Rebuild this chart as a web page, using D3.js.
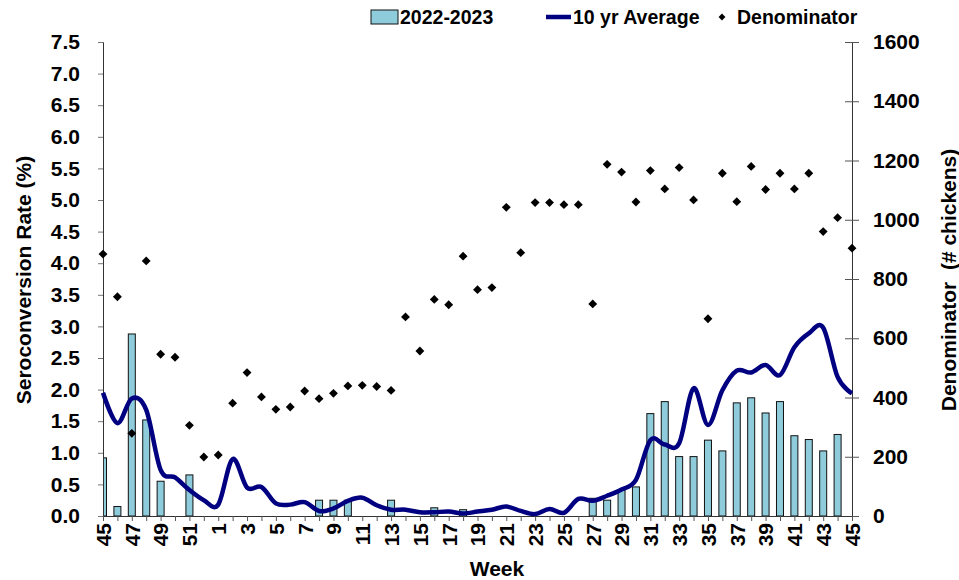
<!DOCTYPE html>
<html><head><meta charset="utf-8">
<script src="https://cdn.jsdelivr.net/npm/d3@7"></script>
<style>body{margin:0;background:#fff}svg{display:block;font-family:"Liberation Sans",Arial,sans-serif;font-weight:bold}</style>
</head><body><svg id="c" width="959" height="580"></svg>
<script>
const weeks = [45,46,47,48,49,50,51,52,1,2,3,4,5,6,7,8,9,10,11,12,13,14,15,16,17,18,19,20,21,22,23,24,25,26,27,28,29,30,31,32,33,34,35,36,37,38,39,40,41,42,43,44,45];
const rate2022 = [0.92,0.15,2.88,1.52,0.55,0,0.65,0,0,0,0,0,0,0,0,0.25,0.25,0.25,0,0,0.25,0,0,0.13,0,0.1,0,0,0,0,0,0,0,0,0.28,0.25,0.41,0.46,1.62,1.81,0.94,0.94,1.20,1.03,1.79,1.87,1.63,1.81,1.27,1.21,1.03,1.29,0];
const avg10 = [1.95,1.47,1.86,1.68,0.73,0.61,0.41,0.25,0.18,0.90,0.45,0.46,0.20,0.18,0.22,0.08,0.12,0.24,0.29,0.17,0.10,0.10,0.06,0.06,0.07,0.04,0.07,0.10,0.15,0.08,0.03,0.11,0.05,0.27,0.24,0.32,0.42,0.57,1.20,1.13,1.15,2.02,1.44,1.99,2.30,2.27,2.39,2.23,2.67,2.89,2.98,2.20,1.94];
const denom = [884,740,279,861,546,536,306,199,206,381,484,402,360,368,422,396,414,439,441,437,424,672,557,731,713,877,764,771,1042,889,1058,1058,1051,1051,716,1187,1161,1060,1166,1104,1176,1067,666,1157,1061,1180,1102,1157,1104,1157,960,1007,904];
const leftTicks = [0,0.5,1,1.5,2,2.5,3,3.5,4,4.5,5,5.5,6,6.5,7,7.5];
const rightTicks = [0,200,400,600,800,1000,1200,1400,1600];

const svg = d3.select("#c");
const L=103, R=852, T=42, B=516;
const idx = d3.range(weeks.length);
const x = d3.scalePoint().domain(idx).range([L,R]);
const yL = d3.scaleLinear().domain([0,7.5]).range([B,T]);
const yR = d3.scaleLinear().domain([0,1600]).range([B,T]);
const bw = 7;
const FF = "Liberation Sans, Arial, sans-serif";

svg.append("defs").append("clipPath").attr("id","pc").append("rect")
  .attr("x",L).attr("y",T-10).attr("width",R-L).attr("height",B-T+10);

// bars
svg.append("g").attr("clip-path","url(#pc)").selectAll("rect").data(idx.filter(i=>rate2022[i]>0)).join("rect")
  .attr("x",i=>x(i)-bw/2).attr("width",bw)
  .attr("y",i=>yL(rate2022[i])).attr("height",i=>B-yL(rate2022[i]))
  .attr("fill","#8ECCDB").attr("stroke","#111").attr("stroke-width",1);

// axes
const fs = 21;
const gL = svg.append("g").attr("transform",`translate(${L},0)`)
  .call(d3.axisLeft(yL).tickValues(leftTicks).tickFormat(d3.format(".1f")).tickSize(5).tickPadding(18));
gL.select(".domain").attr("stroke","#333");
gL.selectAll(".tick line").attr("stroke","#777");
gL.selectAll("text").attr("font-size",fs).attr("font-weight","bold").attr("fill","#000").attr("font-family",FF);

const gR = svg.append("g").attr("transform",`translate(${R},0)`)
  .call(d3.axisRight(yR).tickValues(rightTicks).tickFormat(d3.format("d")).tickSize(7).tickPadding(14));
gR.selectAll(".tick line").attr("x1",-7).attr("stroke","#555");
gR.select(".domain").attr("stroke","#333");
gR.selectAll("text").attr("font-size",fs).attr("font-weight","bold").attr("fill","#000").attr("font-family",FF);

const gB = svg.append("g").attr("transform",`translate(0,${B})`)
  .call(d3.axisBottom(x).tickFormat(i=>i%2===0?weeks[i]:"").tickSize(5).tickSizeOuter(0));
gB.select(".domain").attr("stroke","#333");
gB.selectAll(".tick line").attr("stroke","#555");
gB.selectAll("text").attr("font-size",fs).attr("font-weight","bold").attr("fill","#000")
  .attr("font-family",FF)
  .attr("transform","rotate(-90)").attr("text-anchor","end").attr("dy","0.35em").attr("x",-7).attr("y",0);

// line
const line = d3.line().x(i=>x(i)).y(i=>yL(avg10[i])).curve(d3.curveCatmullRom.alpha(0));
svg.append("path").datum(idx).attr("d",line).attr("fill","none").attr("stroke","#000080").attr("stroke-width",4.5).attr("stroke-linejoin","round");

// denominator diamonds
const dia = d3.symbol().type(d3.symbolDiamond2).size(50);
svg.append("g").selectAll("path").data(idx).join("path")
  .attr("d",dia).attr("transform",i=>`translate(${x(i)},${yR(denom[i])})`)
  .attr("fill","#000");

// axis titles
svg.append("text").attr("x",497).attr("y",576).attr("text-anchor","middle").attr("font-size",21).text("Week");
svg.append("text").attr("transform","translate(31,280) rotate(-90)").attr("text-anchor","middle").attr("font-size",21).text("Seroconversion Rate (%)");
svg.append("text").attr("transform","translate(956,280) rotate(-90)").attr("text-anchor","middle").attr("font-size",21).attr("xml:space","preserve").text("Denominator  (# chickens)");

// legend
const lg = svg.append("g");
lg.append("rect").attr("x",371).attr("y",10).attr("width",27).attr("height",14).attr("fill","#8ECCDB").attr("stroke","#111");
lg.append("text").attr("x",400).attr("y",24).attr("font-size",19.5).text("2022-2023");
lg.append("line").attr("x1",546).attr("x2",571).attr("y1",17).attr("y2",17).attr("stroke","#000080").attr("stroke-width",4.5);
lg.append("text").attr("x",573).attr("y",24).attr("font-size",19.5).text("10 yr Average");
lg.append("path").attr("d",d3.symbol().type(d3.symbolDiamond2).size(30)).attr("transform","translate(722,17)").attr("fill","#000");
lg.append("text").attr("x",737).attr("y",24).attr("font-size",19.5).text("Denominator");
</script></body></html>
